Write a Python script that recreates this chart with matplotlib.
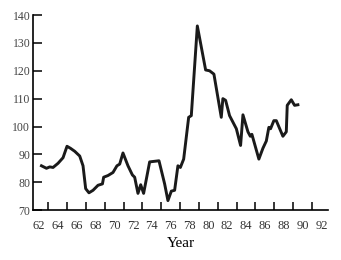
import matplotlib.pyplot as plt
import numpy as np

# values
years = [62.29, 62.82, 63.17, 63.52, 64.05, 64.58, 65.0, 65.36, 65.82, 66.35,
         66.70, 66.98, 67.33, 67.76, 68.29, 68.76, 68.89, 69.35, 69.88, 70.30,
         70.59, 70.94, 71.47, 71.94, 72.18, 72.53, 72.82, 73.13, 73.77, 74.76,
         75.36, 75.71, 76.07, 76.42, 76.77, 77.03, 77.38, 77.91, 78.19, 78.83,
         79.71, 80.13, 80.59, 81.37, 81.54, 81.83, 82.25, 82.97, 83.42, 83.67,
         84.20, 84.45, 84.62, 85.36, 85.79, 86.15, 86.42, 86.60, 86.95, 87.21,
         87.91, 88.27, 88.37, 88.80, 89.15, 89.50]
index = [85.9, 85.0, 85.5, 85.3, 86.8, 88.8, 92.9, 92.2, 91.1, 89.4,
         85.9, 77.7, 76.2, 77.1, 78.9, 79.4, 81.8, 82.4, 83.5, 85.9,
         86.5, 90.5, 85.9, 82.6, 81.8, 76.0, 79.1, 76.0, 87.3, 87.7,
         79.4, 73.4, 76.8, 77.1, 85.9, 85.3, 88.3, 103.3, 103.9, 136.1,
         120.3, 120.0, 118.8, 103.3, 110.0, 109.4, 103.9, 99.2, 93.2, 104.2,
         98.1, 96.5, 97.2, 88.3, 92.2, 94.8, 99.7, 99.2, 102.1, 102.1,
         96.5, 98.1, 107.6, 109.6, 107.6, 107.8]

year_labels = np.arange(62, 93, 2)
year_ticks = np.arange(63, 93, 2)
value_ticks = np.arange(70, 141, 10)

plt.rcParams['font.family'] = ['Liberation Serif', 'DejaVu Serif']

fig = plt.figure(figsize=(3.41, 2.60), dpi=100)
ax = fig.add_axes([0.097, 0.192, 0.865, 0.75])

ax.plot(years, index, color="#1a1a1a", linewidth=2.1)

ax.set_xlim(61.4, 92.7)
ax.set_ylim(70, 140)
ax.spines["top"].set_visible(False)
ax.spines["right"].set_visible(False)
ax.spines["left"].set_linewidth(1.2)
ax.spines["bottom"].set_linewidth(1.2)

ax.set_xticks(year_labels)
ax.set_xticklabels([str(y) for y in year_labels])
ax.set_xticks(year_ticks, minor=True)
ax.tick_params(axis="x", which="major", length=0, pad=7, labelsize=9, labelcolor="#333333")
ax.tick_params(axis="x", which="minor", direction="in", length=6, width=1.1)
ax.set_yticks(value_ticks)
ax.tick_params(axis="y", direction="in", length=6.5, width=1.1, pad=2, labelsize=8.5, labelcolor="#444444")

ax.set_xlabel("Year", fontsize=11, labelpad=4)

plt.savefig("out.png", dpi=100)
